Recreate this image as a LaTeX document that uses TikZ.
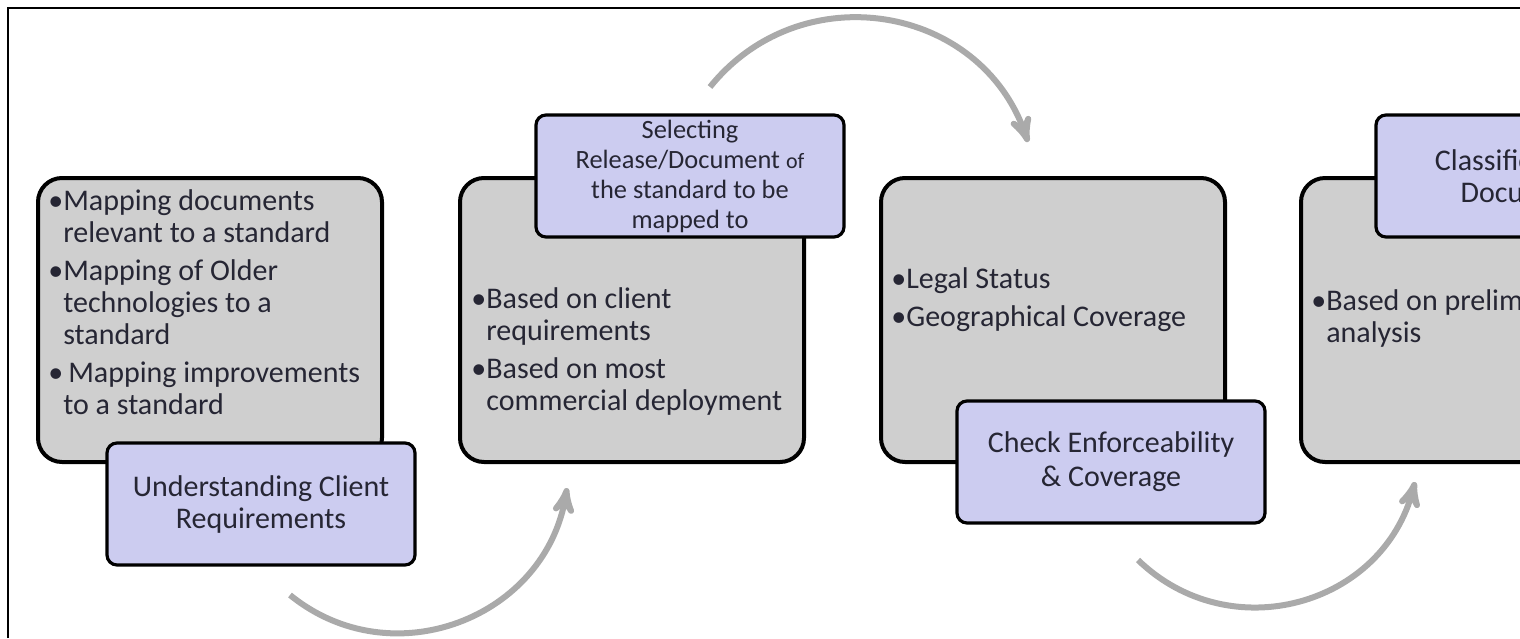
\documentclass[tikz,border=0pt]{standalone}
\usepackage{fontspec}
\setmainfont{Carlito}
\usepackage{tikz}
\usetikzlibrary{arrows}
\definecolor{boxgray}{RGB}{207,207,207}
\definecolor{boxlilac}{RGB}{204,204,240}
\definecolor{textdark}{RGB}{38,38,52}
\definecolor{arrowgray}{RGB}{170,170,170}
\tikzset{stage/.style={rectangle,draw=black,fill=boxgray,line width=2pt,rounded corners=12pt,minimum width=172pt,minimum height=142pt,inner sep=0pt}}
\tikzset{title/.style={rectangle,draw=black,fill=boxlilac,line width=1.6pt,rounded corners=5pt,minimum width=154pt,minimum height=61pt,inner sep=0pt,align=center,text=textdark,font=\fontsize{15}{16}\selectfont}}
\tikzset{bullets/.style={inner sep=0pt,anchor=base west,text=textdark,font=\fontsize{15}{16}\selectfont}}
\tikzset{flow/.style={arrowgray,line width=3pt,>=stealth',->}}
\newcommand{\bul}{\textbullet}

\begin{document}
\begin{tikzpicture}[x=0.5pt,y=-0.5pt]
  \useasboundingbox (0,0) rectangle (1520,638);
  \clip (0,0) rectangle (1520,638);
  % Frame
  \draw[line width=1.3pt] (8,638) -- (8,8) -- (1520,8);

  % Stages
  \foreach \i/\x in {1/210,2/632,3/1053,4/1473}
  {
    \node[stage] (b\i) at (\x,320) {};
  }

  % Bullet texts
  \node[bullets] (t1) at (48,210) {\begin{tabular}[t]{@{}l@{}l@{}}
    \bul & Mapping documents\\
         & relevant to a standard\\[3pt]
    \bul & Mapping of Older\\
         & technologies to a\\
         & standard\\[3pt]
    \bul & \kern2.5pt Mapping improvements\\
         & to a standard
  \end{tabular}};
  \node[bullets] (t2) at (471,308) {\begin{tabular}[t]{@{}l@{}l@{}}
    \bul & Based on client\\
         & requirements\\[3pt]
    \bul & Based on most\\
         & commercial deployment
  \end{tabular}};
  \node[bullets] (t3) at (891,288) {\begin{tabular}[t]{@{}l@{}l@{}}
    \bul & Legal Status\\[3pt]
    \bul & Geographical Coverage
  \end{tabular}};
  \node[bullets] (t4) at (1311,310) {\begin{tabular}[t]{@{}l@{}l@{}}
    \bul & Based on preliminary\\
         & analysis
  \end{tabular}};

  % Titles
  \node[title] (p1) at (261,504) {Understanding Client\\Requirements};
  \node[title,font=\fontsize{13.2}{15}\selectfont] (p2) at (690,176) {Selec\kern0pt ting\\Release/Document {\fontsize{11}{15}\selectfont of}\\the standard to be\\mapped to};
  \node[title,font=\fontsize{15}{17}\selectfont] (p3) at (1111,462) {Check Enforceability\\\& Coverage};
  \node[title] (p4) at (1530,176) {Classification of\\Documents};

  % Arrows
  \coordinate (a1) at (290,595);
  \coordinate (a2) at (567,488);
  \coordinate (a3) at (710,87);
  \coordinate (a4) at (1028,142);
  \coordinate (a5) at (1138,560);
  \coordinate (a6) at (1415,482);
  \draw[flow] (a1) .. controls (392,678) and (546,618) .. (a2);
  \draw[flow] (a3) .. controls (801,-26) and (981,4) .. (a4);
  \draw[flow] (a5) .. controls (1230,649) and (1383,606) .. (a6);
\end{tikzpicture}
\end{document}
